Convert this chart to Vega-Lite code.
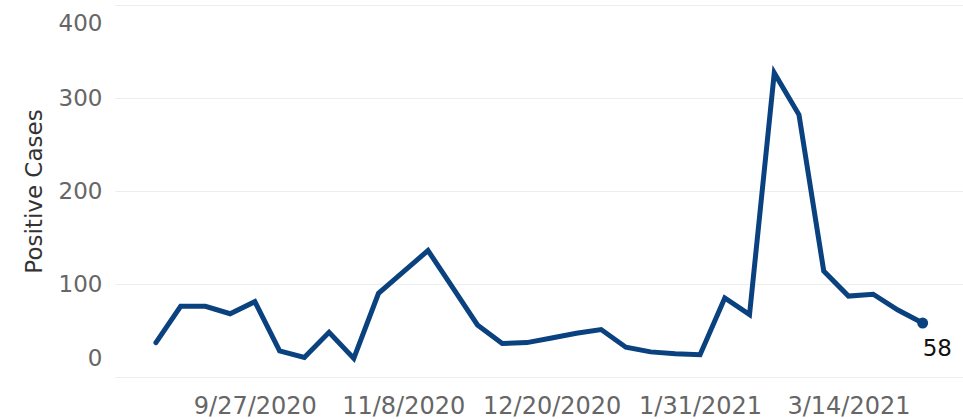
{
  "$schema": "https://vega.github.io/schema/vega-lite/v6.json",
  "autosize": {"type": "none"},
  "width": 848,
  "height": 372,
  "padding": {"left": 115, "top": 5, "right": 0, "bottom": 42},
  "background": "white",
  "config": {
    "view": {"stroke": null},
    "font": "DejaVu Sans"
  },
  "data": {
    "values": [
      {"date": "2020-08-30", "cases": 37},
      {"date": "2020-09-06", "cases": 76},
      {"date": "2020-09-13", "cases": 76},
      {"date": "2020-09-20", "cases": 68},
      {"date": "2020-09-27", "cases": 81},
      {"date": "2020-10-04", "cases": 28},
      {"date": "2020-10-11", "cases": 21},
      {"date": "2020-10-18", "cases": 48},
      {"date": "2020-10-25", "cases": 20},
      {"date": "2020-11-01", "cases": 90},
      {"date": "2020-11-08", "cases": 113},
      {"date": "2020-11-15", "cases": 136},
      {"date": "2020-11-22", "cases": 96},
      {"date": "2020-11-29", "cases": 56},
      {"date": "2020-12-06", "cases": 36},
      {"date": "2020-12-13", "cases": 37},
      {"date": "2020-12-20", "cases": 42},
      {"date": "2020-12-27", "cases": 47},
      {"date": "2021-01-03", "cases": 51},
      {"date": "2021-01-10", "cases": 32},
      {"date": "2021-01-17", "cases": 27},
      {"date": "2021-01-24", "cases": 25},
      {"date": "2021-01-31", "cases": 24},
      {"date": "2021-02-07", "cases": 85},
      {"date": "2021-02-14", "cases": 67},
      {"date": "2021-02-21", "cases": 327},
      {"date": "2021-02-28", "cases": 282},
      {"date": "2021-03-07", "cases": 114},
      {"date": "2021-03-14", "cases": 87},
      {"date": "2021-03-21", "cases": 89},
      {"date": "2021-03-28", "cases": 72},
      {"date": "2021-04-04", "cases": 58}
    ]
  },
  "encoding": {
    "x": {
      "field": "date",
      "type": "temporal",
      "scale": {
        "type": "utc",
        "domain": [
          {"year": 2020, "month": 8, "date": 18, "hours": 10, "utc": true},
          {"year": 2021, "month": 4, "date": 15, "hours": 10, "utc": true}
        ]
      },
      "axis": {
        "title": null,
        "values": [
          {"year": 2020, "month": 9, "date": 27, "utc": true},
          {"year": 2020, "month": 11, "date": 8, "utc": true},
          {"year": 2020, "month": 12, "date": 20, "utc": true},
          {"year": 2021, "month": 1, "date": 31, "utc": true},
          {"year": 2021, "month": 3, "date": 14, "utc": true}
        ],
        "format": "%-m/%-d/%Y",
        "grid": false,
        "ticks": false,
        "domain": false,
        "labelFontSize": 24,
        "labelColor": "#666666",
        "labelPadding": 17
      }
    },
    "y": {
      "field": "cases",
      "type": "quantitative",
      "scale": {"domain": [0, 400], "nice": false, "zero": true},
      "axis": {
        "title": "Positive Cases",
        "values": [0, 100, 200, 300, 400],
        "grid": true,
        "gridColor": "#ededed",
        "gridWidth": 1,
        "ticks": false,
        "domain": false,
        "labelFontSize": 23,
        "labelColor": "#666666",
        "labelPadding": 13,
        "labelFlush": true,
        "labelFlushOffset": -7,
        "titleFontSize": 23,
        "titleFontWeight": "normal",
        "titleColor": "#333333",
        "titlePadding": 12
      }
    }
  },
  "layer": [
    {
      "mark": {"type": "line", "color": "#0a417f", "strokeWidth": 5, "strokeJoin": "miter", "strokeCap": "round"}
    },
    {
      "transform": [{"filter": "datum.cases === 58"}],
      "mark": {"type": "point", "filled": true, "color": "#0a417f", "size": 120, "opacity": 1}
    },
    {
      "transform": [{"filter": "datum.cases === 58"}],
      "mark": {"type": "text", "align": "left", "baseline": "middle", "dx": 0, "dy": 26, "fontSize": 23, "color": "#111111"},
      "encoding": {"text": {"field": "cases", "type": "quantitative"}}
    }
  ]
}
